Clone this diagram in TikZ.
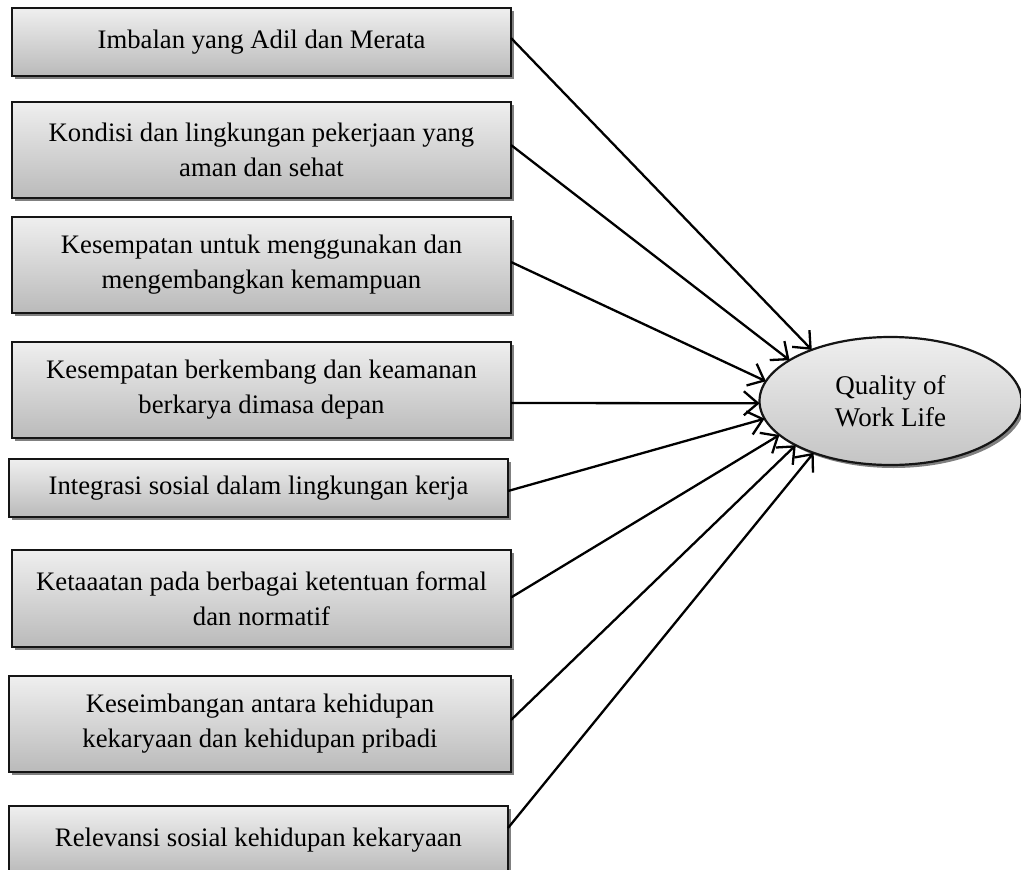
\documentclass[tikz,border=0pt]{standalone}
\usepackage{fontspec}
\setmainfont{Liberation Serif}
\usetikzlibrary{shapes.geometric,shadows,arrows.meta,calc}
\definecolor{boxtop}{HTML}{EFEFEF}
\definecolor{boxbot}{HTML}{BABABA}
\definecolor{shadowgray}{HTML}{808080}
\definecolor{edgecol}{HTML}{151515}
\begin{document}
\begin{tikzpicture}[x=1pt,y=-1pt,
  box/.style={rectangle, draw=edgecol, line width=2.2pt, inner sep=0pt, outer sep=0pt,
    minimum width=499pt, top color=boxtop, bottom color=boxbot,
    drop shadow={shadow xshift=3pt, shadow yshift=-3pt, fill=shadowgray, opacity=1},
    align=center, font=\fontsize{26.7}{35}\selectfont},
  oval/.style={ellipse, draw=edgecol, line width=2.2pt, inner sep=0pt, outer sep=0pt,
    minimum width=262pt, minimum height=128pt, top color=boxtop, bottom color=boxbot!85!white,
    drop shadow={shadow xshift=3pt, shadow yshift=-3pt, fill=shadowgray, opacity=1},
    align=center, font=\fontsize{27}{32}\selectfont},
  conn/.style={line width=2.3pt, draw=black, -{Straight Barb[length=14pt,width=24pt,line width=2.3pt]}}
]
\useasboundingbox (0,0) rectangle (1021,870);
\clip (0,0) rectangle (1021,870);

\node[box, minimum height=68pt] (b1) at (261.5,42) {Imbalan yang Adil dan Merata};
\node[box, minimum height=96pt] (b2) at (261.5,150) {Kondisi dan lingkungan pekerjaan yang\\aman dan sehat};
\node[box, minimum height=96pt] (b3) at (261.5,265) {Kesempatan untuk menggunakan dan\\mengembangkan kemampuan};
\node[box, minimum height=96pt] (b4) at (261.5,390) {Kesempatan berkembang dan keamanan\\berkarya dimasa depan};
\node[box, minimum height=58pt] (b5) at (258.5,488) {Integrasi sosial dalam lingkungan kerja};
\node[box, minimum height=97pt] (b6) at (261.5,598.5) {Ketaaatan pada berbagai ketentuan formal\\dan normatif};
\node[box, minimum height=96pt, minimum width=502pt] (b7) at (260,724) {Keseimbangan antara kehidupan\\kekaryaan dan kehidupan pribadi};
\node[box, minimum height=68pt] (b8) at (258.5,840) {Relevansi sosial kehidupan kekaryaan};

\node[oval] (q) at (890.5,401) {Quality of\\Work Life};

\draw[conn] ($(b1.east)+(0,-4)$) -- (q.147);
\draw[conn] ($(b2.east)+(0,-5)$) -- (q.158);
\draw[conn] ($(b3.east)+(0,-3)$) -- (q.171);
\draw[conn] ($(b4.east)+(0,13)$) -- (q.181);
\draw[conn] ($(b5.east)+(0,3)$) -- (q.188);
\draw[conn] ($(b6.east)+(0,-1)$) -- (q.197);
\draw[conn] ($(b7.east)+(0,-4)$) -- (q.205);
\draw[conn] ($(b8.east)+(0,-12)$) -- (q.214.5);
\end{tikzpicture}
\end{document}
